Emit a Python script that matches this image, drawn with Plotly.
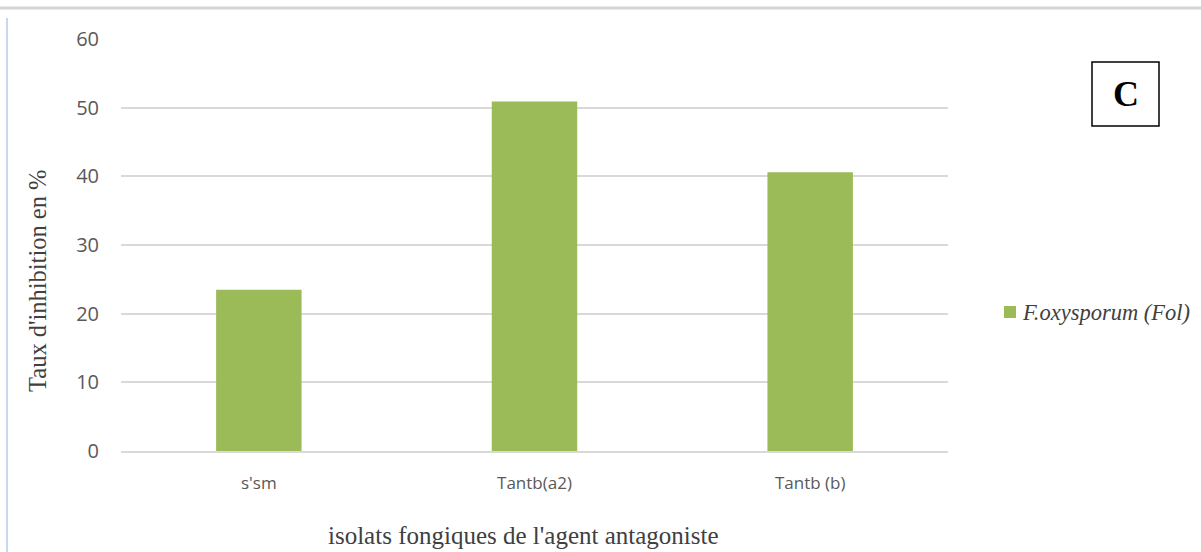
import plotly.graph_objects as go

categories = ["s'sm", "Tantb(a2)", "Tantb (b)"]
values = [23.5, 50.9, 40.6]
series_name = "<i>F.oxysporum (Fol)</i>"
y_ticks = [0, 10, 20, 30, 40, 50, 60]
bar_color = "#9bbb59"

W, H = 1201, 552
L, R, T, B = 121, 253, 39, 101
pw = W - L - R
ph = H - T - B

def px(x):
    return (x - L) / pw

def py(y):
    return (H - B - y) / ph

fig = go.Figure()
fig.add_trace(go.Bar(
    x=categories, y=values, name=series_name,
    marker=dict(color=bar_color, line=dict(width=0)),
    width=0.31, showlegend=False,
))

shapes = [
    dict(type="line", xref="paper", yref="paper", x0=px(0), x1=px(W), y0=py(8), y1=py(8),
         line=dict(color="#d4d4d4", width=3)),
    dict(type="line", xref="paper", yref="paper", x0=px(7), x1=px(7), y0=py(18), y1=py(H),
         line=dict(color="#c6d9f1", width=2)),
    dict(type="rect", xref="paper", yref="paper", x0=px(1092), x1=px(1159), y0=py(62), y1=py(126),
         line=dict(color="black", width=1.5), fillcolor="white"),
    # legend swatch
    dict(type="rect", xref="paper", yref="paper", x0=px(1004), x1=px(1016), y0=py(306), y1=py(318),
         line=dict(width=0), fillcolor=bar_color),
]

annotations = [
    dict(text="<b>C</b>", xref="paper", yref="paper", x=px(1125.5), y=py(94),
         showarrow=False, font=dict(family="Liberation Serif", size=36, color="black"),
         xanchor="center", yanchor="middle"),
    dict(text=series_name, xref="paper", yref="paper", x=px(1020), y=py(312),
         showarrow=False, font=dict(family="Liberation Serif", size=22.5, color="#404040"),
         xanchor="left", yanchor="middle"),
    dict(text="Taux d'inhibition en %", xref="paper", yref="paper", x=px(37), y=py(281),
         showarrow=False, textangle=-90,
         font=dict(family="Liberation Serif", size=24.5, color="#404040"),
         xanchor="center", yanchor="middle"),
    dict(text="isolats fongiques de l'agent antagoniste", xref="paper", yref="paper",
         x=px(523), y=py(535), showarrow=False,
         font=dict(family="Liberation Serif", size=25, color="#404040"),
         xanchor="center", yanchor="middle"),
]

fig.update_layout(
    width=W, height=H,
    margin=dict(l=L, r=R, t=T, b=B, pad=0),
    paper_bgcolor="white", plot_bgcolor="white",
    bargap=0.69,
    shapes=shapes,
    annotations=annotations,
    showlegend=False,
    xaxis=dict(showgrid=False, showline=True, linecolor="#d9d9d9", linewidth=1.5,
               ticks="", ticklabelstandoff=16,
               tickfont=dict(family="Open Sans", size=17, color="#595959")),
    yaxis=dict(range=[0, 60], tickvals=y_ticks, showgrid=True, gridcolor="#d9d9d9", gridwidth=1.5,
               zeroline=False, showline=False, ticks="", ticklabelstandoff=21,
               tickfont=dict(family="Open Sans", size=20, color="#595959")),
)

fig.write_html("out.html")
